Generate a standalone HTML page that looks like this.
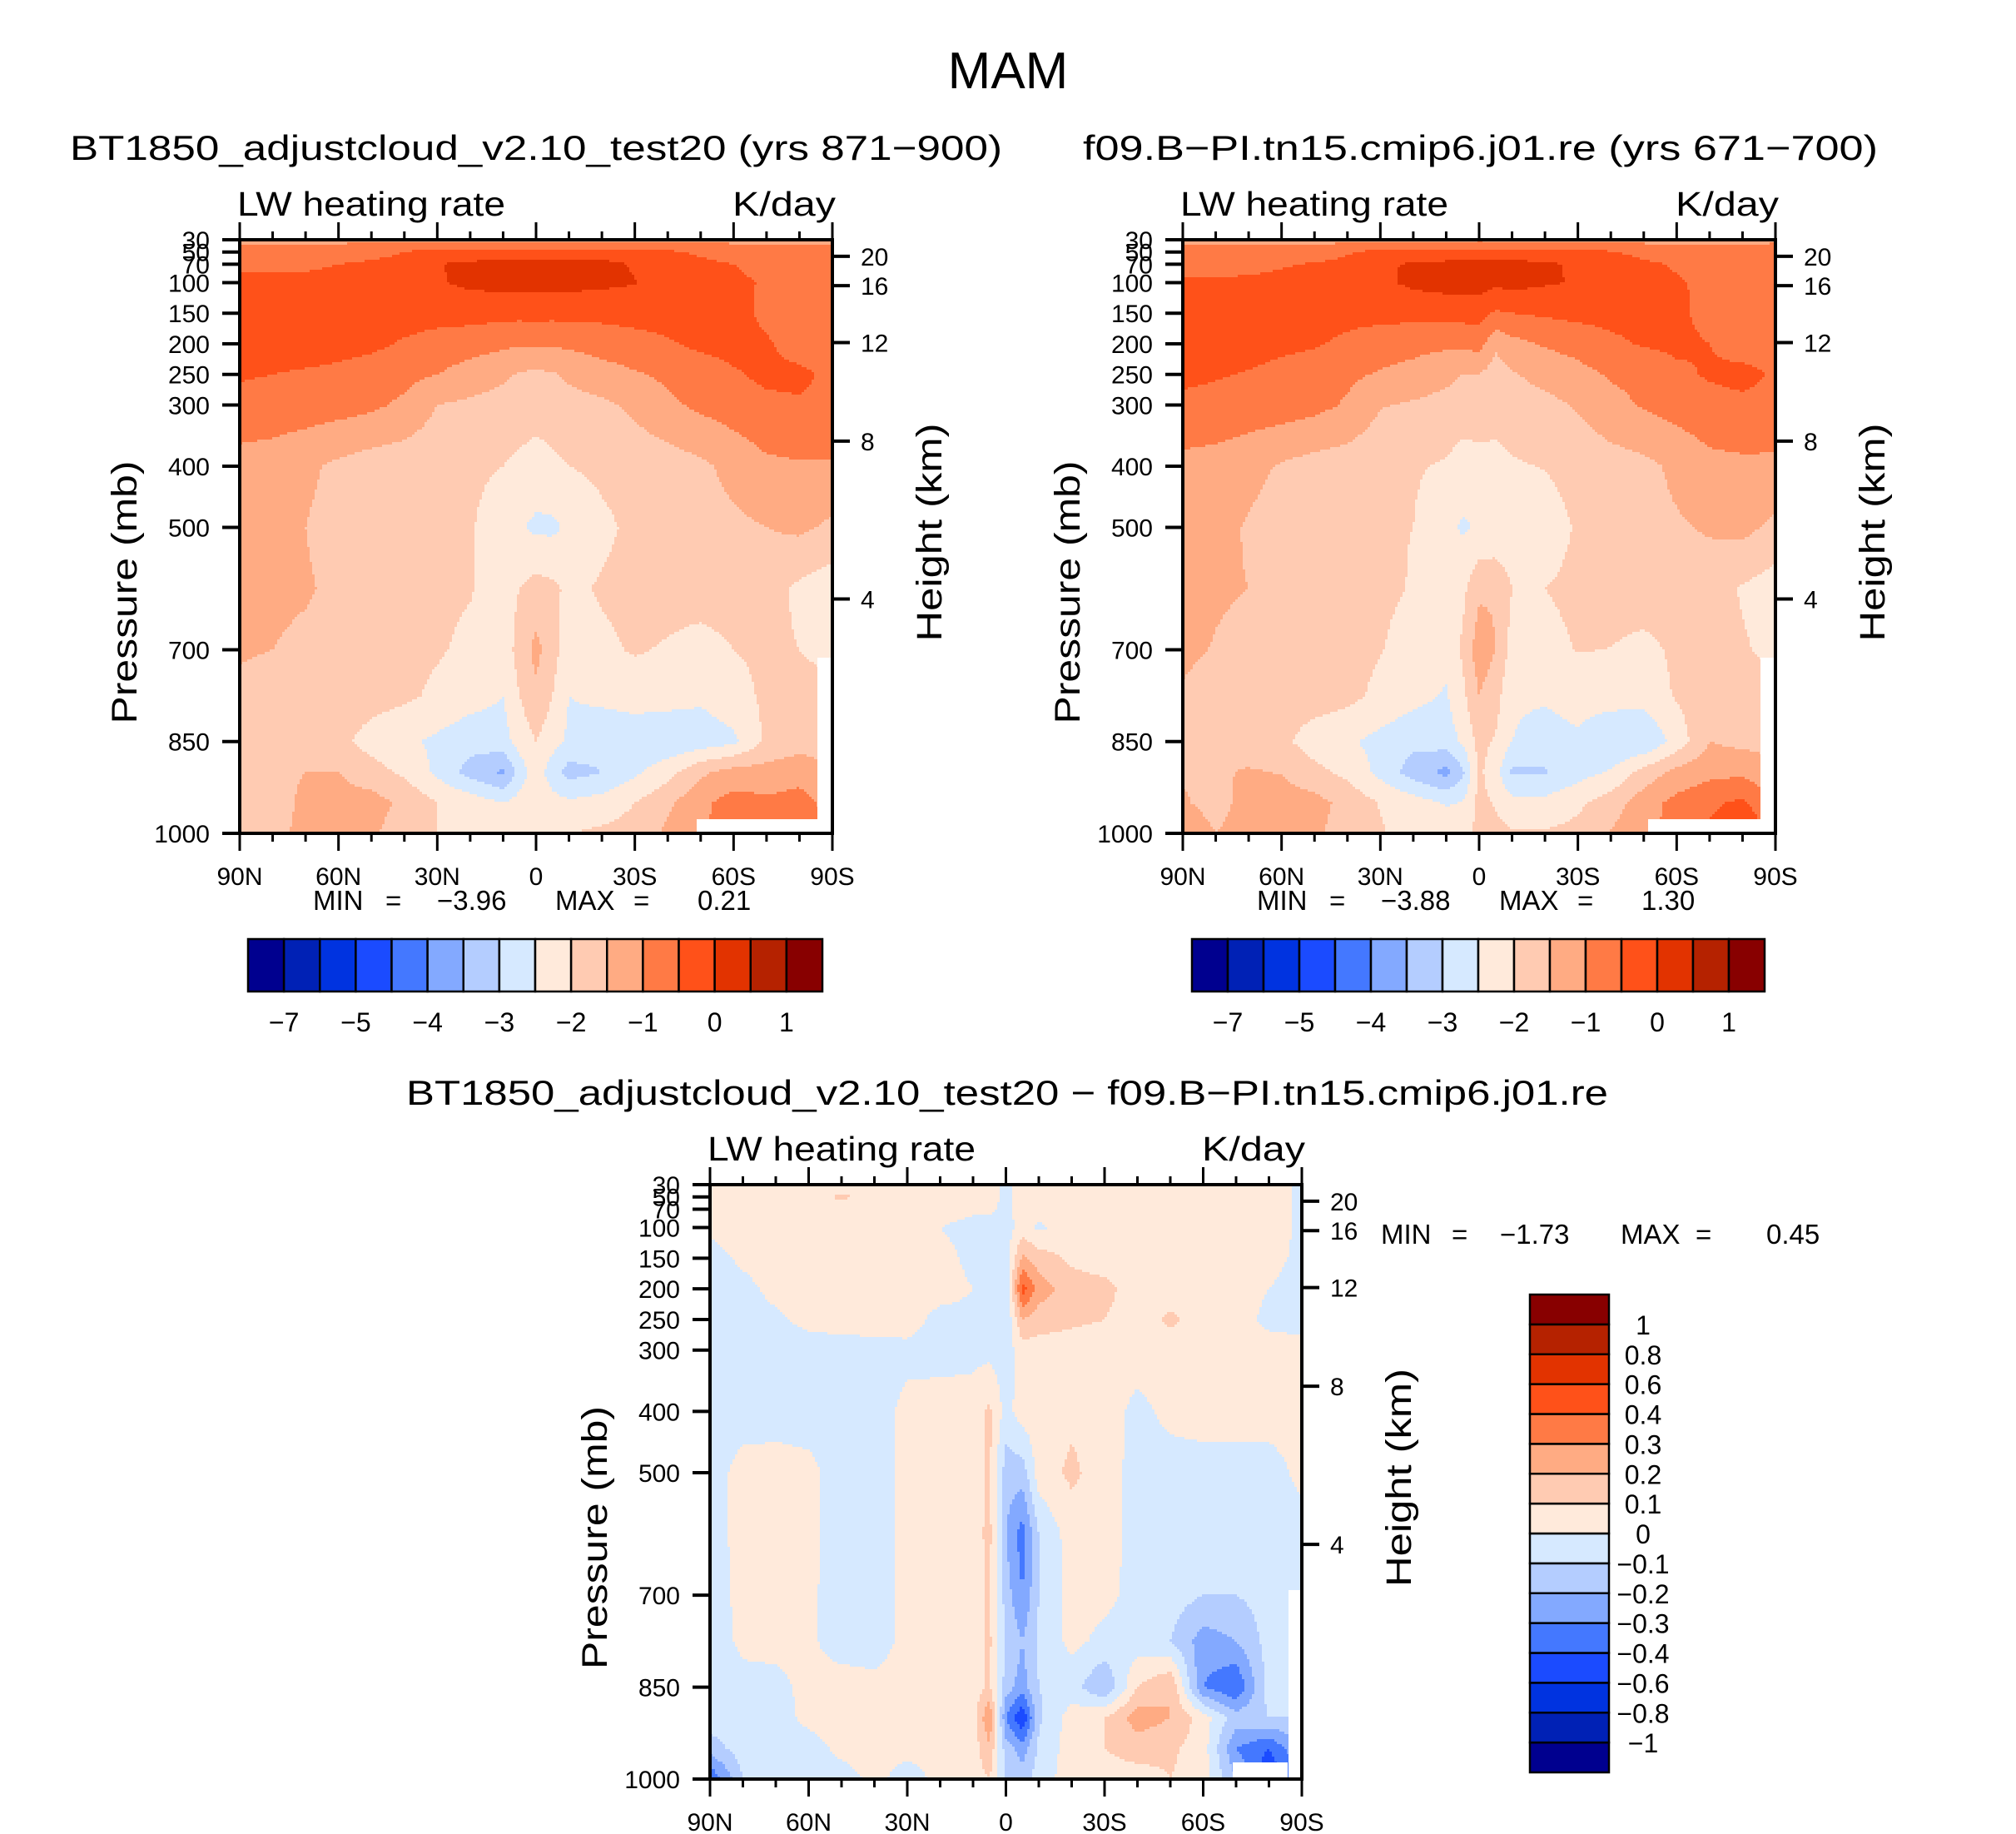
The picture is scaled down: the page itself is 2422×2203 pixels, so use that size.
<!DOCTYPE html>
<html><head><meta charset="utf-8"><title>MAM LW heating rate</title>
<style>html,body{margin:0;padding:0;background:#fff}svg{display:block}text{font-family:"Liberation Sans",sans-serif;fill:#000}</style>
</head><body>
<svg id="fig" xmlns="http://www.w3.org/2000/svg" width="2422" height="2203" viewBox="0 0 2422 2203">
<rect x="0" y="0" width="2422" height="2203" fill="#fff"/>
<text x="1211" y="106" font-size="62" text-anchor="middle">MAM</text>
<text x="84" y="192" font-size="42" textLength="1120" lengthAdjust="spacingAndGlyphs">BT1850_adjustcloud_v2.10_test20 (yrs 871−900)</text>
<text x="1301" y="192" font-size="42" textLength="955" lengthAdjust="spacingAndGlyphs">f09.B−PI.tn15.cmip6.j01.re (yrs 671−700)</text>
<text x="488" y="1327" font-size="42" textLength="1444" lengthAdjust="spacingAndGlyphs">BT1850_adjustcloud_v2.10_test20 − f09.B−PI.tn15.cmip6.j01.re</text>
<g id="layer"></g>
</svg>
<script>
const latNodes=[90,80,70,60,50,40,30,20,10,5,0,-5,-10,-20,-30,-40,-50,-60,-70,-80,-90];
const presNodes=[30,50,70,100,150,200,250,300,400,500,600,700,775,850,900,950,1000];
const fieldA=[
[-1.1,-1.1,-1.1,-1.1,-1.1,-1.1,-1.1,-1.1,-1.1,-1.1,-1.1,-1.1,-1.1,-1.1,-1.1,-1.1,-1.1,-1.1,-1.1,-1.1,-1.1],
[-0.8,-0.8,-0.8,-0.8,-0.7,-0.5,-0.3,-0.3,-0.3,-0.3,-0.3,-0.3,-0.3,-0.3,-0.3,-0.4,-0.6,-0.8,-0.8,-0.8,-0.8],
[-0.6,-0.6,-0.6,-0.5,-0.4,-0.3,-0.02,0.1,0.15,0.2,0.2,0.2,0.2,0.15,-0.05,-0.2,-0.35,-0.5,-0.65,-0.7,-0.7],
[-0.4,-0.4,-0.35,-0.3,-0.3,-0.25,-0.05,0.1,0.15,0.15,0.15,0.15,0.15,0.1,0.02,-0.2,-0.3,-0.4,-0.55,-0.65,-0.7],
[-0.3,-0.3,-0.3,-0.3,-0.3,-0.3,-0.3,-0.3,-0.35,-0.35,-0.35,-0.35,-0.35,-0.35,-0.3,-0.3,-0.3,-0.35,-0.6,-0.8,-0.8],
[-0.3,-0.3,-0.3,-0.35,-0.4,-0.55,-0.7,-0.8,-0.9,-0.95,-0.9,-0.95,-0.9,-0.8,-0.7,-0.55,-0.4,-0.35,-0.45,-0.7,-0.8],
[-0.45,-0.5,-0.55,-0.6,-0.7,-0.85,-1.0,-1.2,-1.4,-1.55,-1.6,-1.55,-1.4,-1.2,-1.05,-0.9,-0.75,-0.55,-0.4,-0.4,-0.6],
[-0.65,-0.7,-0.75,-0.8,-0.9,-1.1,-1.5,-1.6,-1.7,-1.75,-1.8,-1.75,-1.7,-1.6,-1.4,-1.1,-0.9,-0.75,-0.6,-0.55,-0.6],
[-1.2,-1.25,-1.4,-1.6,-1.75,-1.8,-1.85,-1.9,-2.0,-2.1,-2.2,-2.1,-2.0,-1.9,-1.8,-1.75,-1.6,-1.35,-1.1,-1.05,-1.05],
[-1.2,-1.3,-1.5,-1.7,-1.8,-1.9,-1.95,-1.95,-2.3,-2.45,-2.6,-2.6,-2.4,-2.1,-1.9,-1.8,-1.7,-1.6,-1.5,-1.4,-1.6],
[-1.3,-1.4,-1.45,-1.6,-1.75,-1.85,-1.9,-1.97,-2.2,-2.0,-1.8,-1.9,-2.1,-1.95,-1.85,-1.8,-1.75,-1.75,-1.8,-2.1,-2.3],
[-1.45,-1.5,-1.6,-1.7,-1.8,-1.85,-1.95,-2.1,-2.3,-1.8,-1.35,-1.8,-2.3,-2.1,-1.95,-2.05,-2.2,-2.0,-1.9,-2.0,-2.2],
[-1.6,-1.7,-1.7,-1.75,-1.8,-1.9,-2.1,-2.3,-2.5,-2.0,-1.6,-2.0,-2.5,-2.4,-2.3,-2.3,-2.4,-2.2,-1.9,-1.8,-1.8],
[-1.7,-1.75,-1.8,-1.85,-2.2,-2.4,-2.6,-2.8,-2.7,-2.3,-2.0,-2.3,-2.6,-2.8,-2.8,-2.9,-2.8,-2.6,-1.9,-1.7,-1.7],
[-1.6,-1.6,-1.5,-1.5,-1.8,-2.1,-2.6,-3.2,-3.6,-2.8,-2.2,-2.8,-3.2,-3.0,-2.6,-2.2,-1.6,-1.3,-1.3,-1.2,-1.5],
[-1.6,-1.7,-1.4,-1.3,-1.3,-1.6,-2.0,-2.2,-2.5,-2.3,-2.0,-2.3,-2.4,-2.3,-2.0,-1.6,-1.1,-0.8,-0.9,-0.8,-1.2],
[-1.6,-1.6,-1.4,-1.3,-1.4,-1.8,-2.0,-2.2,-2.1,-2.0,-2.0,-2.0,-2.0,-1.9,-1.8,-1.4,-1.1,-0.7,-0.6,-0.5,-1.0]
];
const diffD=[
[0.05,0.05,0.05,0.05,0.05,0.05,0.05,0.05,0.05,0.05,-0.03,0.05,0.05,0.05,0.05,0.05,0.05,0.05,0.05,0.05,-0.02],
[0.05,0.05,0.05,0.05,0.12,0.05,0.05,0.05,0.05,0.05,-0.03,0.05,0.05,0.05,0.05,0.05,0.05,0.05,0.05,0.05,-0.02],
[0.05,0.05,0.05,0.05,0.05,0.05,0.05,0.05,0.02,0.02,-0.03,0.05,0.05,0.05,0.05,0.05,0.05,0.05,0.05,0.05,-0.02],
[0.02,0.05,0.05,0.05,0.05,0.05,0.05,0.0,-0.04,-0.04,-0.05,0.05,-0.02,0.05,0.05,0.05,0.05,0.05,0.05,0.05,-0.02],
[-0.04,0.02,0.05,0.05,0.05,0.05,0.05,0.04,-0.03,-0.04,-0.05,0.22,0.15,0.08,0.05,0.05,0.05,0.05,0.05,0.04,-0.03],
[-0.05,-0.03,0.03,0.05,0.05,0.05,0.05,0.05,0.0,-0.05,-0.1,0.45,0.25,0.15,0.13,0.05,0.05,0.05,0.05,0.0,-0.05],
[-0.05,-0.04,-0.02,0.03,0.05,0.05,0.05,-0.04,-0.03,-0.04,-0.1,0.2,0.15,0.12,0.1,0.05,0.12,0.05,0.05,-0.03,-0.05],
[-0.05,-0.05,-0.05,-0.05,-0.05,-0.04,-0.03,-0.04,-0.03,-0.03,-0.05,0.05,0.05,0.05,0.05,0.05,0.05,0.05,0.05,0.05,0.05],
[-0.05,-0.05,-0.05,-0.05,-0.05,-0.05,0.03,0.05,0.05,0.12,-0.04,0.05,0.05,0.08,0.05,-0.03,0.03,0.05,0.05,0.05,0.05],
[-0.05,0.04,0.05,0.03,-0.05,-0.05,0.03,0.05,0.05,0.12,-0.15,-0.15,0.05,0.12,0.05,-0.04,-0.05,-0.05,-0.05,-0.05,0.03],
[-0.05,0.04,0.05,0.03,-0.05,-0.05,0.03,0.05,0.05,0.13,-0.2,-0.35,-0.1,0.05,0.05,-0.04,-0.05,-0.05,-0.05,-0.05,-0.05],
[-0.05,0.03,0.04,0.02,-0.05,-0.05,0.03,0.05,0.05,0.12,-0.15,-0.3,-0.1,0.04,0.03,-0.04,-0.05,-0.1,-0.1,-0.06,-0.05],
[-0.05,0.02,0.03,0.02,-0.05,-0.05,0.03,0.05,0.05,0.12,-0.1,-0.2,-0.08,0.03,-0.03,-0.05,-0.1,-0.25,-0.2,-0.06,-0.05],
[-0.05,-0.03,-0.03,0.03,0.05,0.03,0.05,0.05,0.05,0.12,-0.15,-0.25,-0.1,-0.06,-0.2,0.1,0.2,-0.3,-0.4,-0.06,-0.05],
[-0.05,-0.03,-0.05,0.03,0.05,0.03,0.05,0.05,0.05,0.3,-0.3,-0.5,-0.12,0.05,0.1,0.25,0.2,0.05,-0.15,-0.1,-0.1],
[-0.15,-0.05,-0.05,-0.05,0.03,0.05,0.03,0.05,0.05,0.18,-0.15,-0.25,-0.08,0.05,0.1,0.15,0.12,0.05,-0.3,-0.4,-0.2],
[-0.4,-0.1,-0.08,-0.05,-0.05,0.03,-0.05,0.03,0.05,0.1,-0.1,-0.15,-0.05,0.05,0.05,0.05,0.1,0.05,-0.2,-0.5,-0.3]
];
const levelsTop=[-7,-6,-5,-4.5,-4,-3.5,-3,-2.5,-2,-1.5,-1,-0.5,0,0.5,1];
const levelsDiff=[-1,-0.8,-0.6,-0.4,-0.3,-0.2,-0.1,0,0.1,0.2,0.3,0.4,0.6,0.8,1];
const colorsFill=['#00008f','#0021b5','#0033e0','#1b4bff','#4478ff','#83a9ff','#b4cdff','#d6e9ff','#ffeadb','#ffcbb2','#ffab83','#ff7a45','#ff5119','#e23300','#b52200','#880000'];
const topBarLabels=['−7','−5','−4','−3','−2','−1','0','1'];
const diffBarLabels=['−1','−0.8','−0.6','−0.4','−0.3','−0.2','−0.1','0','0.1','0.2','0.3','0.4','0.6','0.8','1'];
const presTicks=[30,50,70,100,150,200,250,300,400,500,700,850,1000];
const heightTicks=[20,16,12,8,4];
const heightTickPres=[57,105,198,359,617];
const latTicks=[90,60,30,0,-30,-60,-90];
const latTickLabels=['90N','60N','30N','0','30S','60S','90S'];
const statsA=['−3.96','0.21'], statsB=['−3.88','1.30'], statsD=['−1.73','0.45'];

const NS='http://www.w3.org/2000/svg';
const layer=document.getElementById('layer');
function mk(tag,attrs,parent){const e=document.createElementNS(NS,tag);for(const k in attrs)e.setAttribute(k,attrs[k]);(parent||layer).appendChild(e);return e;}
function txt(s,attrs,parent){const e=mk('text',attrs,parent);e.textContent=s;return e;}

const fieldB=fieldA.map((r,i)=>r.map((v,j)=>+(v-diffD[i][j]).toFixed(3)));

function sample(grid,lat,p){
  let j=0;while(j<latNodes.length-2&&lat<latNodes[j+1])j++;
  let i=0;while(i<presNodes.length-2&&p>presNodes[i+1])i++;
  const tx=(latNodes[j]-lat)/(latNodes[j]-latNodes[j+1]);
  const ty=(p-presNodes[i])/(presNodes[i+1]-presNodes[i]);
  const a=grid[i][j],b=grid[i][j+1],c=grid[i+1][j],d=grid[i+1][j+1];
  return (a*(1-tx)+b*tx)*(1-ty)+(c*(1-tx)+d*tx)*ty;
}
function colorIdx(v,levels){let k=0;while(k<levels.length&&v>=levels[k])k++;return k;}

function panel(name,ox,oy,W,H,grid,levels,whites){
  const g=mk('g',{});
  
  
  const xS=lat=>ox+(90-lat)/180*W;
  const yS=p=>oy+(p-30)/970*H;
  const cs=3;
  const cells=mk('g',{'shape-rendering':'crispEdges'},g);
  
  
  for(let py=0;py<H;py+=cs){
    const p=30+(py+cs/2)/H*970;
    let runStart=0,runC=-1;
    for(let px=0;px<W+cs;px+=cs){
      let c=-2;
      if(px<W){const lat=90-Math.min(px+cs/2,W)/W*180;c=colorIdx(sample(grid,lat,p),levels);}
      if(c!==runC){
        if(runC>=0){
          const r=mk('rect',{x:ox+runStart,y:oy+py,width:Math.min(px,W)-runStart+0.6,height:Math.min(cs,H-py)+0.6,fill:colorsFill[runC]},cells);
          
          
        }
        runStart=px;runC=c;
      }
    }
  }
  whites.forEach(w=>{const r=mk('rect',{x:w[0],y:w[1],width:w[2],height:w[3],fill:'#fff'},g);
    
    });
  const frame=mk('rect',{x:ox,y:oy,width:W,height:H,fill:'none',stroke:'#000','stroke-width':4},g);
  
  
  presTicks.forEach(p=>{
    const y=yS(p);
    const t=mk('line',{x1:ox-21,x2:ox,y1:y,y2:y,stroke:'#000','stroke-width':4},g);
    
    
    const l=txt(String(p),{x:ox-36,y:y+11,'font-size':30,'text-anchor':'end'},g);
    
    
  });
  heightTicks.forEach((h,k)=>{
    const y=yS(heightTickPres[k]);
    const t=mk('line',{x1:ox+W,x2:ox+W+21,y1:y,y2:y,stroke:'#000','stroke-width':4},g);
    
    
    const l=txt(String(h),{x:ox+W+34,y:y+11,'font-size':30},g);
    
    
  });
  for(let lat=90;lat>=-90;lat-=10){
    const x=xS(lat);const major=lat%30===0;const len=major?21:10;
    const t1=mk('line',{x1:x,x2:x,y1:oy-len,y2:oy,stroke:'#000','stroke-width':3},g);
    
    
    const t2=mk('line',{x1:x,x2:x,y1:oy+H,y2:oy+H+len,stroke:'#000','stroke-width':3},g);
    
    
  }
  latTicks.forEach((lat,k)=>{
    const l=txt(latTickLabels[k],{x:xS(lat),y:oy+H+62,'font-size':30,'text-anchor':'middle'},g);
    
    
  });
  const lw=txt('LW heating rate',{x:ox-3,y:oy-29,'font-size':41,textLength:322,lengthAdjust:'spacingAndGlyphs'},g);
  
  
  const un=txt('K/day',{x:ox+W+4,y:oy-29,'font-size':41,'text-anchor':'end',textLength:124,lengthAdjust:'spacingAndGlyphs'},g);
  
  
  const cy=oy+H/2+Math.round(H*0.094);
  const yl=txt('Pressure  (mb)',{x:0,y:0,'font-size':43,'text-anchor':'middle',transform:`translate(${ox-124},${cy}) rotate(-90)`,textLength:316,lengthAdjust:'spacingAndGlyphs'},g);
  
  
  const hl=txt('Height  (km)',{x:0,y:0,'font-size':43,'text-anchor':'middle',transform:`translate(${ox+W+131},${oy+H/2-5}) rotate(-90)`,textLength:262,lengthAdjust:'spacingAndGlyphs'},g);
  
  
}

function stats(xs,y,vals){
  const parts=['MIN','=',vals[0],'MAX','=',vals[1]];
  parts.forEach((s,k)=>{const t=txt(s,{x:xs[k],y:y,'font-size':33});
    
    });
}
function hbar(x0,x1,y0,y1,labels){
  const g=mk('g',{});
  
  
  const w=(x1-x0)/16;
  colorsFill.forEach((c,k)=>{const r=mk('rect',{x:x0+k*w,y:y0,width:w,height:y1-y0,fill:c,stroke:'#000','stroke-width':2.5},g);
    
    });
  labels.forEach((s,k)=>{const t=txt(s,{x:x0+(2*k+1)*w,y:y1+48,'font-size':32,'text-anchor':'middle'},g);
    
    });
}
function vbar(x0,x1,y0,y1,labels){
  const g=mk('g',{});
  
  
  const h=(y1-y0)/16;
  colorsFill.forEach((c,k)=>{const r=mk('rect',{x:x0,y:y0+(15-k)*h,width:x1-x0,height:h,fill:c,stroke:'#000','stroke-width':2.5},g);
    
    });
  labels.forEach((s,k)=>{const t=txt(s,{x:1974,y:y0+(15-k)*h+12,'font-size':32,'text-anchor':'middle'},g);
    
    });
}

panel('left-panel',288,288,712,713,fieldA,levelsTop,[[837,984,148,17],[982,790,16,211]]);
panel('right-panel',1421,288,712,713,fieldB,levelsTop,[[1980,984,148,17],[2115,790,16,211]]);
panel('diff-panel',853,1423,711,714,diffD,levelsDiff,[[1481,2117,66,20],[1548,1910,14,227]]);
stats([376,463,525,667,761,838],1093,statsA);
stats([1510,1597,1659,1801,1895,1972],1093,statsB);
stats([1659,1744,1802,1947,2037,2122],1494,statsD);
hbar(298,988,1128,1191,topBarLabels);
hbar(1432,2120,1128,1191,topBarLabels);
vbar(1838,1933,1555,2129,diffBarLabels);
</script>
</body></html>
